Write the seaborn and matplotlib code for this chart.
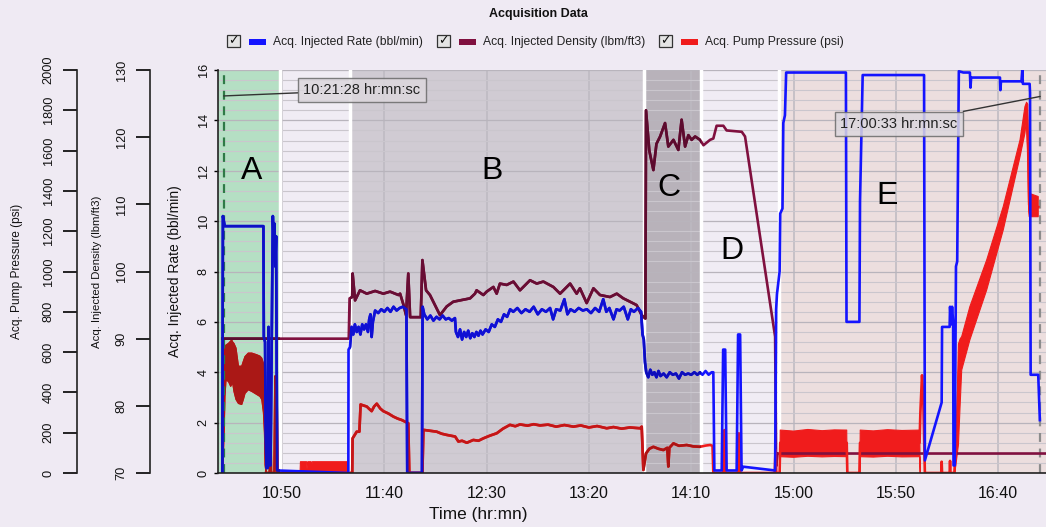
import numpy as np
import seaborn as sns
import matplotlib.pyplot as plt
from matplotlib import colors as mcolors, font_manager
from matplotlib.patches import Rectangle
from matplotlib.ticker import MultipleLocator

# all times are minutes after midnight
rate_t = [620.8, 621.1, 622.0, 640.9, 641.1, 641.7, 642.0, 642.4, 643.0, 643.4, 643.8, 644.4,
          645.5, 645.9, 646.3, 646.7, 647.1, 647.6, 682.4, 682.5, 683.2,
          684.0, 684.8, 685.6, 686.5, 687.4, 688.3, 689.2, 690.1, 691.0, 692.0, 692.6, 693.2, 693.8,
          694.4, 695.5, 697.0, 698.5, 700.0, 701.5, 703.0, 704.5, 706.0, 707.5, 709.0, 710.8, 711.2,
          718.4, 718.7, 719.5, 721.0, 722.5, 724.0, 725.5, 727.0, 728.5, 730.0, 731.5, 733.0, 734.5,
          735.0, 736.0, 737.0, 738.0, 739.0, 740.0, 741.0, 742.0, 743.0, 744.0, 745.0, 746.0, 747.0,
          748.0, 749.5, 751.0, 752.5, 754.0, 755.5, 757.0, 758.5, 760.0, 761.5, 763.0, 765.0, 767.0,
          769.0, 771.0, 773.0, 775.0, 777.0, 779.0, 781.0, 782.5, 784.0, 786.0, 788.0, 789.5, 791.0,
          793.0, 795.0, 797.0, 799.0, 801.0, 803.0, 805.0, 807.0, 808.5, 810.0, 812.0, 813.5, 815.0,
          817.0, 819.0, 820.5, 822.0, 824.0, 825.5, 826.2, 826.8,
          827.4, 828.0, 829.0, 830.0, 831.0, 832.0, 833.0, 834.0, 835.0, 836.5, 838.0, 839.5, 841.0,
          842.5, 844.0, 845.5, 847.0, 848.5, 850.0, 851.5, 853.0, 854.3, 855.5, 857.0, 858.5, 860.0,
          860.8, 861.3, 864.9, 865.6, 866.6, 867.3, 872.2, 872.9, 873.9, 874.6, 875.4, 891.0,
          891.5, 891.9, 893.2, 893.5, 894.6, 895.0, 895.8, 896.4, 925.6, 925.9, 932.2, 932.5, 933.8,
          963.8, 964.2, 972.4, 972.6, 976.3, 976.5, 977.0, 977.5, 978.0, 978.2, 978.8, 979.4, 980.0,
          980.8, 983.0, 986.2, 986.5, 986.8, 1000.9, 1001.1, 1001.4, 1011.4, 1011.8, 1012.1, 1015.4,
          1015.6, 1015.9, 1019.6, 1020.4]
rate_v = [0.0, 10.2, 9.8, 9.8, 5.4, 5.2, 2.0, 0.2, 0.2, 5.8, 0.3, 0.3,
          10.2, 9.2, 9.9, 8.2, 9.4, 0.1, 0.0, 4.9, 5.0,
          5.8, 5.5, 5.9, 5.6, 5.8, 5.5, 5.9, 5.7, 5.9, 5.6, 6.1, 6.3, 5.4,
          6.0, 6.45, 6.35, 6.5, 6.4, 6.55, 6.4, 6.6, 6.45, 6.55, 6.6, 6.5, 0.0,
          0.0, 6.6, 6.3, 6.1, 6.25, 6.05, 6.2, 6.1, 6.25, 6.1, 6.15, 6.05, 6.15,
          5.6, 5.4, 5.7, 5.3, 5.6, 5.4, 5.65, 5.35, 5.55, 5.4, 5.6, 5.45, 5.65,
          5.5, 5.7, 5.6, 5.9, 5.8, 6.1, 6.0, 6.3, 6.2, 6.5, 6.4, 6.55, 6.35,
          6.5, 6.4, 6.6, 6.3, 6.5, 6.4, 6.55, 6.1, 6.5, 6.45, 6.9, 6.3, 6.5,
          6.4, 6.55, 6.45, 6.5, 6.35, 6.55, 6.4, 6.9, 6.4, 6.55, 6.1, 6.5, 6.45,
          6.6, 6.1, 6.5, 6.4, 6.55, 6.4, 5.5, 5.3,
          4.4, 4.0, 3.8, 4.1, 3.9, 4.0, 3.8, 4.05, 3.85, 3.95, 3.8, 4.0, 3.9,
          3.95, 3.75, 4.0, 3.9, 3.95, 3.9, 4.0, 3.9, 4.0, 3.9, 4.05, 3.9, 4.0,
          4.0, 0.1, 0.1, 4.9, 4.9, 0.1, 0.1, 5.5, 5.5, 0.1, 0.25, 0.1,
          6.5, 7.1, 8.0, 10.3, 10.5, 13.9, 14.2, 15.9, 15.9, 6.0, 6.0, 10.8, 15.8,
          15.8, 0.5, 2.8, 5.8, 5.8, 6.6, 5.9, 6.6, 6.0, 0.3, 0.3, 8.2, 8.4,
          15.95, 15.9, 15.9, 15.3, 15.7, 15.7, 15.2, 15.55, 15.55, 16.0, 15.45, 15.45,
          15.1, 3.9, 3.9, 2.1]

dens_t = [620.8, 682.6, 683.0, 684.3, 684.5, 685.7, 688.1, 691.4, 695.5, 699.5, 702.8, 706.9,
          707.7, 709.4, 710.6, 711.7, 712.6, 717.8, 718.6, 720.4, 722.3, 727.2, 730.5, 733.7,
          738.6, 741.9, 744.3, 745.1, 748.4, 750.0, 753.3, 754.9, 756.5, 759.8, 763.1, 766.3,
          771.2, 774.5, 777.7, 782.6, 785.9, 790.8, 794.0, 795.6, 798.9, 802.2, 805.4, 810.3,
          813.6, 816.8, 820.1, 823.3, 825.8, 827.6, 827.9, 829.5, 831.5, 833.0, 834.8, 837.2,
          838.8, 841.3, 843.7, 845.3, 847.0, 848.6, 850.2, 851.9, 854.3, 856.0, 859.2, 860.8,
          862.4, 865.7, 867.3, 874.7, 876.3, 891.0, 891.5, 892.2, 1023.0]
dens_v = [90.0, 90.0, 96.0, 96.2, 99.7, 95.7, 97.2, 96.7, 97.1, 96.7, 97.0, 96.5,
          96.7, 95.0, 93.5, 99.7, 93.2, 93.2, 101.7, 97.2, 96.5, 93.5, 94.8, 95.5,
          95.8, 96.0, 96.7, 97.2, 96.5, 97.0, 97.7, 96.7, 98.2, 98.0, 98.5, 97.2,
          98.7, 98.2, 98.5, 97.7, 96.7, 98.2, 96.7, 97.5, 95.3, 97.5, 96.5, 96.2,
          96.7, 96.0, 95.5, 95.0, 93.5, 93.0, 124.0, 118.0, 115.1, 119.0, 120.1, 122.1,
          118.6, 119.6, 118.1, 122.6, 118.6, 120.3, 119.6, 120.1, 119.6, 118.8, 119.6, 119.8,
          121.7, 121.7, 121.0, 120.8, 120.1, 90.3, 71.0, 72.9, 72.9]

pres_t = [642.2, 644.0, 644.3, 644.6, 646.3, 646.8, 647.3, 647.7, 684.3, 684.5, 686.5, 687.8,
          688.4, 689.8, 691.4, 692.6, 693.8, 695.0, 696.3, 698.0, 699.5, 702.0, 704.4, 706.5,
          708.5, 711.7, 712.2, 718.6, 719.1, 722.0, 725.6, 728.0, 730.5, 734.6, 736.2, 738.0,
          740.3, 743.5, 746.0, 748.4, 751.5, 754.9, 758.0, 761.4, 764.0, 766.3, 770.0, 773.0,
          776.1, 780.0, 784.0, 788.0, 792.4, 796.0, 800.0, 804.0, 808.7, 812.0, 816.0, 820.0,
          825.0, 825.8, 826.6, 827.9, 829.5, 831.5, 834.0, 836.4, 838.3, 838.8, 839.3, 841.3,
          844.0, 847.8, 851.0, 854.3, 857.0, 859.2, 860.4, 860.8, 865.6, 866.2, 866.7, 872.8,
          873.3, 873.8, 890.8, 891.2, 891.6, 893.2, 893.5, 926.0, 926.3, 932.2, 932.5, 961.6,
          962.0, 962.8, 963.4, 964.2, 972.2, 972.4, 972.6, 976.3, 976.5, 976.7, 978.6, 979.5,
          980.5, 981.4, 986.2, 994.4, 1002.5, 1010.7, 1013.9, 1014.7, 1015.2, 1019.6]
pres_v = [0, 0, 250, 0, 0, 480, 420, 0, 0, 172, 205, 205,
          340, 335, 330, 318, 307, 330, 344, 320, 307, 295, 280, 270,
          263, 247, 0, 0, 214, 210, 205, 195, 189, 181, 156, 160,
          150, 164, 160, 172, 185, 197, 220, 239, 232, 241, 235, 242,
          236, 240, 230, 238, 230, 236, 226, 233, 222, 228, 220, 226,
          222, 230, 15, 97, 120, 130, 120, 114, 125, 32, 125, 147,
          135, 139, 132, 130, 136, 139, 135, 0, 0, 213, 0, 0,
          197, 0, 0, 115, 0, 0, 150, 150, 0, 0, 150, 150,
          300, 485, 380, 0, 0, 56, 0, 0, 60, 0, 0, 147,
          400, 600, 740, 980, 1260, 1610, 1800, 1600, 1330, 1320]

# pump pressure swings too fast to trace: min / max envelope (psi), nan splits the stretches
band_t = [621.0, 621.7, 622.1, 622.6, 623.8, 624.9, 625.4, 625.9, 626.5, 627.5, 628.7, 630.3,
          631.1, 631.9, 633.5, 635.2, 637.6, 639.2, 640.1, 640.9, 641.4, 641.7, 642.2, np.nan,
          658.8, 659.0, 662.0, 662.2, 662.6, 664.2, 664.4, 664.8, 682.3, 682.5, np.nan,
          893.3, 893.5, 900.0, 907.0, 914.0, 920.0, 926.0, 926.2, np.nan,
          932.4, 932.6, 939.0, 946.0, 953.0, 961.7, 961.9, np.nan,
          978.8, 979.6, 980.6, 981.4, 982.2, 986.2, 994.4, 1002.5, 1010.7, 1013.1, 1013.9, 1014.5,
          1014.9, 1015.2, 1019.6]
band_lo = [0, 200, 380, 460, 455, 430, 440, 445, 405, 365, 345, 340,
           365, 395, 413, 405, 390, 380, 365, 300, 200, 40, 0, np.nan,
           0, 0, 0, 0, 0, 0, 0, 0, 0, 0, np.nan,
           0, 81, 78, 83, 80, 82, 81, 0, np.nan,
           0, 81, 79, 83, 80, 81, 0, np.nan,
           0, 60, 140, 330, 511, 661, 908, 1206, 1570, 1686, 1760, 1600,
           1300, 1272, 1272]
band_hi = [30, 600, 627, 635, 643, 655, 660, 650, 643, 620, 530, 530,
           555, 578, 595, 595, 587, 580, 570, 545, 430, 280, 30, np.nan,
           0, 56, 56, 20, 56, 56, 20, 56, 56, 0, np.nan,
           0, 213, 208, 216, 210, 214, 213, 0, np.nan,
           0, 213, 209, 215, 211, 213, 0, np.nan,
           40, 200, 640, 665, 677, 826, 1057, 1322, 1653, 1818, 1840, 1830,
           1560, 1388, 1372]

tick_labels = ["10:50", "11:40", "12:30", "13:20", "14:10", "15:00", "15:50", "16:40"]
region_edges = [618.7, 648.8, 683.2, 826.7, 855.0, 892.7, 1023.4]
region_colors = ['#b5dfc4', '#f0ecf4', '#d0cbd3', '#b8b2ba', '#f0ecf4', '#ecdede']
region_letters = ['A', '', 'B', 'C', 'D', 'E']
letter_x = [635.2, None, 752.6, 839.3, 869.8, 945.6]
letter_y = [12.0, None, 12.0, 11.3, 8.8, 11.0]
cursor_times = ["10:21:28", "17:00:33"]

BLUE, MAROON, RED = '#1414ff', '#80103f', '#f01c1c'
BG = '#efeaf3'
W, H = 1046, 527
LW = 1.9


def clock(s):
    parts = [float(p) for p in s.split(':')]
    return parts[0] * 60 + parts[1] + (parts[2] / 60 if len(parts) > 2 else 0)


names = {f.name for f in font_manager.fontManager.ttflist}
NARROW = 'Liberation Sans Narrow' if 'Liberation Sans Narrow' in names else 'Liberation Sans'
SQ = 1.0 if NARROW.endswith('Narrow') else 0.82
plt.rcParams['font.family'] = ['Liberation Sans', 'DejaVu Sans']

# everything is drawn against the rate scale (0-16)
dens_y = (np.array(dens_v) - 70) / 60 * 16
pres_y = np.array(pres_v, dtype=float) / 2000 * 16
lo_y = np.array(band_lo, dtype=float) / 2000 * 16
hi_y = np.array(band_hi, dtype=float) / 2000 * 16

fig = plt.figure(figsize=(W / 100, H / 100), dpi=100, facecolor=BG)
ax = fig.add_axes([218 / W, 1 - 473 / H, (W - 218) / W, 403 / H])
ax.set_facecolor(BG)
ax.set_axisbelow(True)


def tinted(c, tint):
    if tint is None:
        return c
    return tuple(np.array(mcolors.to_rgb(c)) * np.array(mcolors.to_rgb(tint)))


def draw_traces(tint=None, clip=None):
    made = []
    sns.lineplot(x=dens_t, y=dens_y, ax=ax, color=tinted(MAROON, tint), linewidth=LW,
                 estimator=None, sort=False)
    made.append(ax.lines[-1])
    sns.lineplot(x=pres_t, y=pres_y, ax=ax, color=tinted(RED, tint), linewidth=LW,
                 estimator=None, sort=False)
    made.append(ax.lines[-1])
    made.append(ax.fill_between(band_t, lo_y, hi_y, color=tinted(RED, tint), linewidth=0.8))
    sns.lineplot(x=rate_t, y=rate_v, ax=ax, color=tinted(BLUE, tint), linewidth=LW,
                 estimator=None, sort=False)
    made.append(ax.lines[-1])
    if clip is not None:
        for a in made:
            a.set_clip_path(clip)


# shaded stages
for i, c in enumerate(region_colors):
    ax.axvspan(region_edges[i], region_edges[i + 1], color=c, lw=0, zorder=0.1)
for e in region_edges[1:-1]:
    ax.axvline(e, color='white', lw=2.5, zorder=0.8)

draw_traces()
# the stage shading darkens the traces that run through it
for i in [0, 2, 3]:
    box = Rectangle((region_edges[i], 0), region_edges[i + 1] - region_edges[i], 1,
                    transform=ax.get_xaxis_transform())
    draw_traces(region_colors[i], box)

for letter, lx, ly in zip(region_letters, letter_x, letter_y):
    if letter:
        ax.text(lx, ly, letter, fontsize=23, ha='center', va='center', zorder=5)

c0, c1 = clock(cursor_times[0]), clock(cursor_times[1])
ax.axvline(c0, color='#2f7a47', ls=(0, (4, 3)), lw=1.6, zorder=1.5)
ax.axvline(c1, color='#8c8c8c', ls=(0, (4, 3)), lw=1.6, zorder=1.5)
box_style = dict(boxstyle='square,pad=0.35', fc='#dcd7dd', ec='#6a6a6a', lw=1, alpha=0.85)
ax.annotate(cursor_times[0] + ' hr:mn:sc', xy=(c0, 14.97), xytext=(689.1, 15.2),
            ha='center', va='center', fontsize=10.5, color='#222', bbox=box_style, zorder=6,
            arrowprops=dict(arrowstyle='-', color='#333', lw=1, shrinkA=0, shrinkB=0))
ax.annotate(cursor_times[1] + ' hr:mn:sc', xy=(c1, 14.95), xytext=(951.6, 13.86),
            ha='center', va='center', fontsize=10.5, color='#222', bbox=box_style, zorder=6,
            arrowprops=dict(arrowstyle='-', color='#333', lw=1, shrinkA=0, shrinkB=0))

ax.set_xlim(region_edges[0], region_edges[-1])
ax.set_ylim(0, 16)
ax.set_xticks([clock(t) for t in tick_labels])
ax.set_xticklabels(tick_labels)
ax.set_yticks(range(0, 17, 2))
ax.yaxis.set_minor_locator(MultipleLocator(0.4))
ax.grid(True, which='major', axis='x', color='#bdb9c1', lw=1.1)
ax.grid(True, which='major', axis='y', color='#b8b4bc', lw=0.9)
ax.grid(True, which='minor', axis='y', color='#cac6cd', lw=0.8)
ax.tick_params(axis='x', length=0, pad=9, labelsize=11.5, labelcolor='#111')
ax.tick_params(axis='y', which='major', length=3, width=1, pad=3, labelrotation=90)
ax.tick_params(axis='y', which='minor', length=0)
plt.setp(ax.get_yticklabels(), va='center', family=NARROW, fontsize=11.2 * SQ, color='#111')
for s in ['top', 'right']:
    ax.spines[s].set_visible(False)
for s in ['left', 'bottom']:
    ax.spines[s].set_color('#222')
    ax.spines[s].set_linewidth(1.2)
ax.set_xlabel('Time (hr:mn)', fontsize=12.4, color='#111')
ax.xaxis.set_label_coords(0.3145, -0.085)
ax.set_ylabel('Acq. Injected Rate (bbl/min)', fontsize=12.2 * SQ, family=NARROW, color='#111')
ax.yaxis.set_label_coords(-0.0436, 0.5)


def extra_axis(pos, lim, ticks, label, label_x, size):
    a = ax.twinx()
    a.set_ylim(*lim)
    a.set_yticks(ticks)
    a.yaxis.set_ticks_position('left')
    a.yaxis.set_label_position('left')
    for s in ['right', 'top', 'bottom']:
        a.spines[s].set_visible(False)
    a.spines['left'].set_position(('axes', pos))
    a.spines['left'].set_color('#222')
    a.spines['left'].set_linewidth(1.2)
    a.tick_params(axis='y', length=10, width=1.2, pad=6, labelrotation=90)
    plt.setp(a.get_yticklabels(), va='center', family=NARROW, fontsize=11.2 * SQ, color='#111')
    a.set_ylabel(label, fontsize=size * SQ, family=NARROW, color='#111')
    a.yaxis.set_label_coords(label_x, 0.5)
    return a


extra_axis((150 - 218) / (W - 218), (70, 130), range(70, 131, 10),
           'Acq. Injected Density (lbm/ft3)', -0.1406, 10)
extra_axis((77 - 218) / (W - 218), (0, 2000), range(0, 2001, 200),
           'Acq. Pump Pressure (psi)', -0.235, 10.4)

# title and check-box legend
fig.text(538 / W, 1 - 14 / H, 'Acquisition Data', ha='center', va='center',
         fontsize=9, fontweight='bold', color='#111')
legend_items = [("Acq. Injected Rate (bbl/min)", BLUE), ("Acq. Injected Density (lbm/ft3)", MAROON),
                ("Acq. Pump Pressure (psi)", RED)]
legend_x = [227, 437, 659]
for lx, (lab, c) in zip(legend_x, legend_items):
    fig.add_artist(Rectangle((lx / W, 1 - 47 / H), 13 / W, 12 / H, transform=fig.transFigure,
                             fc='#e4e4e4', ec='#333', lw=0.9))
    fig.text((lx + 6.5) / W, 1 - 41 / H, '\u2713', ha='center', va='center', fontsize=9,
             fontweight='bold', family='DejaVu Sans', color='#111')
    fig.add_artist(Rectangle(((lx + 22) / W, 1 - 44.5 / H), 17 / W, 5 / H,
                             transform=fig.transFigure, fc=c, ec='none'))
    fig.text((lx + 46) / W, 1 - 42 / H, lab, ha='left', va='center', fontsize=8.7, color='#222')

fig.savefig('out.png', dpi=100, facecolor=BG)
